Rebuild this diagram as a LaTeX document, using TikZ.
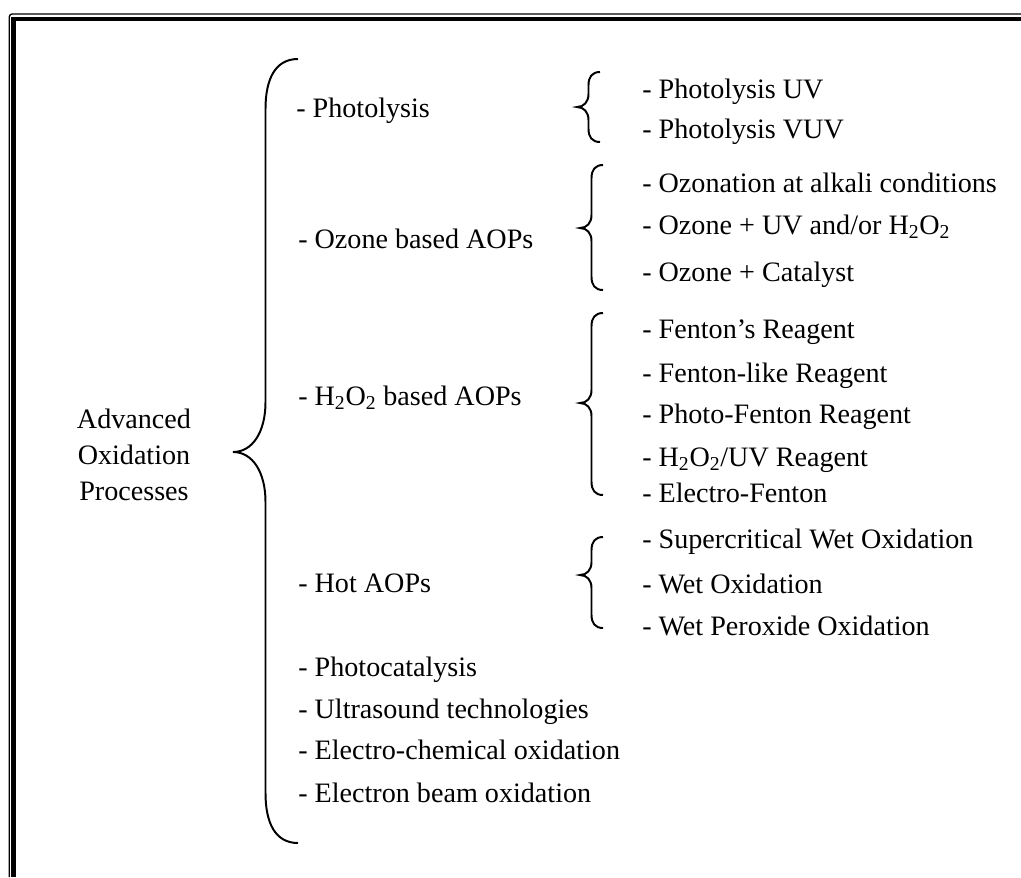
\documentclass[tikz,border=0pt]{standalone}
\usepackage{fontspec}
\setmainfont{Liberation Serif}
\usepackage{tikz}

% curly bracket: tip x, top y, tip y, bottom y, half width, curl height
\newcommand{\curly}[6]{%
  \draw[bracket] (#1+2*#5,#2) .. controls (#1+1.3*#5,#2) and (#1+#5,#2+0.4*#6) .. (#1+#5,#2+#6)
    -- (#1+#5,#3-#6) .. controls (#1+#5,#3-0.4*#6) and (#1+0.6*#5,#3) .. (#1,#3)
    .. controls (#1+0.6*#5,#3) and (#1+#5,#3+0.4*#6) .. (#1+#5,#3+#6)
    -- (#1+#5,#4-#6) .. controls (#1+#5,#4-0.4*#6) and (#1+1.3*#5,#4) .. (#1+2*#5,#4);}

\begin{document}
\begin{tikzpicture}[x=0.025cm, y=-0.025cm,
    item/.style={anchor=base west, inner sep=0pt, font=\fontsize{20}{25.5}\selectfont},
    bracket/.style={line width=1.4pt},
    title/.style={align=center, inner sep=0pt, font=\fontsize{20}{25.5}\selectfont}]
        \useasboundingbox (0,0) rectangle (1021,877);

        % Draw the double frame
        \draw[line width=0.95pt, rounded corners=2] (9.3,877) -- (9.3,14) -- (1021,14);
        \draw[line width=3.3pt] (13.4,877) -- (13.4,19) -- (1021,19);

        % Main label and its bracket
        \node[title] (aop) at (134,455) {Advanced\\Oxidation\\Processes};
        \curly{233}{59}{452}{843}{32.5}{50}

        % First level
        \node[item] (photo) at (296,117) {- Photolysis};
        \node[item] (ozone) at (298,248) {- Ozone based AOPs};
        \node[item] (perox) at (298,405) {- H\textsubscript{2}O\textsubscript{2} based AOPs};
        \node[item] (hot) at (298,592) {- Hot AOPs};
        \node[item] (pcat) at (298,676) {- Photocatalysis};
        \node[item] (sono) at (298,718) {- Ultrasound technologies};
        \node[item] (echem) at (298,759) {- Electro-chemical oxidation};
        \node[item] (ebeam) at (298,802) {- Electron beam oxidation};

        % Photolysis group
        \curly{577}{72}{107}{142}{11.5}{13}
        \node[item] (uv) at (642,98) {- Photolysis UV};
        \node[item] (vuv) at (642,138) {- Photolysis VUV};

        % Ozone group
        \curly{580}{165}{228}{290}{11.5}{13}
        \node[item] (alk) at (642,192) {- Ozonation at alkali conditions};
        \node[item] (ozuv) at (642,234) {- Ozone + UV and/or H\textsubscript{2}O\textsubscript{2}};
        \node[item] (ozcat) at (642,281) {- Ozone + Catalyst};

        % H2O2 group
        \curly{580}{313}{403}{495}{11.5}{13}
        \node[item] (fen) at (642,338) {- Fenton’s Reagent};
        \node[item] (fenlike) at (642,382) {- Fenton-like Reagent};
        \node[item] (phfen) at (642,423) {- Photo-Fenton Reagent};
        \node[item] (peruv) at (642,466) {- H\textsubscript{2}O\textsubscript{2}/UV Reagent};
        \node[item] (elfen) at (642,502) {- Electro-Fenton};

        % Hot group
        \curly{580}{537}{575}{628}{11.5}{13}
        \node[item] (scwo) at (642,548) {- Supercritical Wet Oxidation};
        \node[item] (wo) at (642,593) {- Wet Oxidation};
        \node[item] (wpo) at (642,635) {- Wet Peroxide Oxidation};
    \end{tikzpicture}
\end{document}
